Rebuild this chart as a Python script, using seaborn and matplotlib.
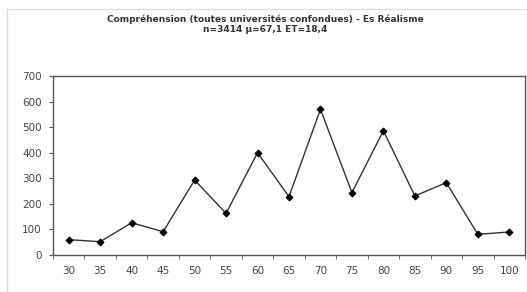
import pandas as pd
import matplotlib.pyplot as plt
import seaborn as sns
from matplotlib.patches import Rectangle

# Data
scores = [30, 35, 40, 45, 50, 55, 60, 65, 70, 75, 80, 85, 90, 95, 100]
counts = [60, 52, 126, 91, 293, 163, 400, 228, 570, 244, 486, 231, 283, 81, 90]
yticks = [0, 100, 200, 300, 400, 500, 600, 700]

title = "Compréhension (toutes universités confondues) - Es Réalisme"
subtitle = "n=3414 µ=67,1 ET=18,4"

df = pd.DataFrame({"score": scores, "count": counts})

sns.set_style("white")
plt.rcParams["font.family"] = ["DejaVu Sans"]

fig = plt.figure(figsize=(5.27, 2.92), dpi=100)
ax = fig.add_axes([53 / 527, 1 - 255 / 292, (525 - 53) / 527, (255 - 76) / 292])

sns.lineplot(
    data=df, x="score", y="count", ax=ax,
    color="#333333", linewidth=1.0,
    marker="D", markersize=3.5, markerfacecolor="black", markeredgecolor="black",
)

ax.set_xlim(scores[0] - 2.5, scores[-1] + 2.5)
ax.set_ylim(0, 700)
ax.set_yticks(yticks)
ax.set_xticks(scores)
ax.set_xticks([s - 2.5 for s in scores] + [scores[-1] + 2.5], minor=True)
ax.tick_params(axis="x", which="major", length=0, pad=8, labelsize=7.5, labelcolor="#444444")
ax.tick_params(axis="x", which="minor", length=3, direction="out", color="#555555", bottom=True)
ax.tick_params(axis="y", length=3, direction="out", color="#555555", left=True,
               labelsize=7.5, labelcolor="#444444", pad=5)
ax.set_xlabel("")
ax.set_ylabel("")
for sp in ax.spines.values():
    sp.set_color("#555555")
    sp.set_linewidth(1.0)

fig.text(265 / 527, 1 - 19 / 292, title, ha="center", va="center",
         fontsize=6.5, fontweight="bold", color="#333333")
fig.text(265 / 527, 1 - 29 / 292, subtitle, ha="center", va="center",
         fontsize=6.5, fontweight="bold", color="#333333")

# light outer frame
fig.patches.append(Rectangle((7 / 527, 0), 1 - 7 / 527, 1 - 9 / 292, transform=fig.transFigure,
                             fill=False, edgecolor="#dddddd", linewidth=1.0))

fig.savefig("out.png", dpi=100)
